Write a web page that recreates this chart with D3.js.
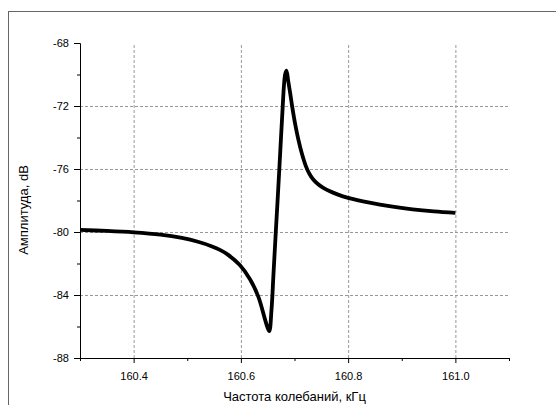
<!DOCTYPE html>
<html>
<head>
<meta charset="utf-8">
<script src="https://cdn.jsdelivr.net/npm/d3@7"></script>
<style>
    body { margin: 0; background: #fff; }
    svg { display: block; font-family: "Liberation Sans", Arial, sans-serif; }
    .grid line { stroke: #999; stroke-dasharray: 3,2; }
    .grid .domain { display: none; }
    .axis path, .axis line { stroke: #000; }
    .axis text { font-size: 11px; fill: #000; }
    .axisTitle { font-size: 13px; fill: #000; }
</style>
</head>
<body>
<script>
(function(){

    //frequency values (kHz)
    var freq = [160.300, 160.350, 160.400, 160.450, 160.490, 160.520, 160.545, 160.560,
        160.575, 160.598, 160.617, 160.6325, 160.645, 160.6495, 160.653, 160.6571,
        160.6608, 160.6645, 160.6683, 160.6717, 160.6748, 160.678, 160.6804, 160.6827,
        160.685, 160.688, 160.692, 160.696, 160.701, 160.707, 160.714, 160.721,
        160.728, 160.735, 160.743, 160.753, 160.765, 160.780, 160.800, 160.840,
        160.880, 160.920, 160.960, 161.000];
    //amplitude values (dB)
    var amp = [-79.87, -79.93, -80.02, -80.17, -80.38, -80.62, -80.90, -81.12,
        -81.42, -82.10, -83.00, -84.10, -85.55, -86.05, -86.29, -84.95,
        -82.67, -80.38, -78.10, -76.00, -74.03, -72.04, -70.67, -69.97,
        -69.75, -70.35, -71.20, -72.10, -73.10, -74.10, -75.05, -75.80,
        -76.32, -76.67, -76.94, -77.18, -77.40, -77.61, -77.83, -78.14,
        -78.38, -78.56, -78.69, -78.78];

    var xTicks = [160.4, 160.6, 160.8, 161.0];
    var xMinor = [160.3, 160.5, 160.7, 160.9, 161.1];
    var yTicks = [-68, -72, -76, -80, -84, -88];
    var yMinor = [-70, -74, -78, -82, -86];
    var yGrid = [-72, -76, -80, -84];

    var width = 556, height = 405;
    var left = 80, right = 509, top = 43, bottom = 358;

    var svg = d3.select("body").append("svg")
        .attr("width", width)
        .attr("height", height);

    //outer frame (runs off the right and bottom edges)
    svg.append("rect")
        .attr("x", 8.5)
        .attr("y", 11.5)
        .attr("width", 600)
        .attr("height", 450)
        .attr("fill", "#fff")
        .attr("stroke", "#666")
        .attr("stroke-width", 1);

    var x = d3.scaleLinear().domain([160.3, 161.1]).range([left, right]);
    var y = d3.scaleLinear().domain([-88, -68]).range([bottom, top]);

    //grid lines
    svg.append("g")
        .attr("class", "grid")
        .attr("transform", "translate(0," + bottom + ")")
        .call(d3.axisBottom(x).tickValues(xTicks).tickSize(-(bottom - top)).tickFormat(""));
    svg.append("g")
        .attr("class", "grid")
        .attr("transform", "translate(" + left + ",0)")
        .call(d3.axisLeft(y).tickValues(yGrid).tickSize(-(right - left)).tickFormat(""));

    //minor ticks
    svg.append("g")
        .attr("class", "axis")
        .attr("transform", "translate(0," + bottom + ")")
        .call(d3.axisBottom(x).tickValues(xMinor).tickSize(3).tickSizeOuter(0).tickFormat(""));
    svg.append("g")
        .attr("class", "axis")
        .attr("transform", "translate(" + left + ",0)")
        .call(d3.axisLeft(y).tickValues(yMinor).tickSize(3).tickSizeOuter(0).tickFormat(""));

    //major axes
    svg.append("g")
        .attr("class", "axis")
        .attr("transform", "translate(0," + bottom + ")")
        .call(d3.axisBottom(x).tickValues(xTicks).tickSize(5).tickSizeOuter(0)
            .tickPadding(9).tickFormat(d3.format(".1f")));
    svg.append("g")
        .attr("class", "axis")
        .attr("transform", "translate(" + left + ",0)")
        .call(d3.axisLeft(y).tickValues(yTicks).tickSize(6).tickSizeOuter(0)
            .tickPadding(5).tickFormat(d3.format("d")));

    svg.selectAll(".axis text").text(function(){
        return d3.select(this).text().replace("\u2212", "-");
    });

    //curve
    var pts = freq.map(function(f, i){ return [f, amp[i]]; });
    var line = d3.line()
        .x(function(d){ return x(d[0]); })
        .y(function(d){ return y(d[1]); })
        .curve(d3.curveCatmullRom.alpha(0.5));
    svg.append("path")
        .datum(pts)
        .attr("d", line)
        .attr("fill", "none")
        .attr("stroke", "#000")
        .attr("stroke-width", 3.8)
        .attr("stroke-linejoin", "round");

    //axis titles
    svg.append("text")
        .attr("class", "axisTitle")
        .attr("x", (left + right) / 2)
        .attr("y", 401)
        .attr("text-anchor", "middle")
        .text("Частота колебаний, кГц");
    svg.append("text")
        .attr("class", "axisTitle")
        .attr("transform", "translate(28,210) rotate(-90)")
        .attr("text-anchor", "middle")
        .text("Амплитуда, dB");

})();
</script>
</body>
</html>
